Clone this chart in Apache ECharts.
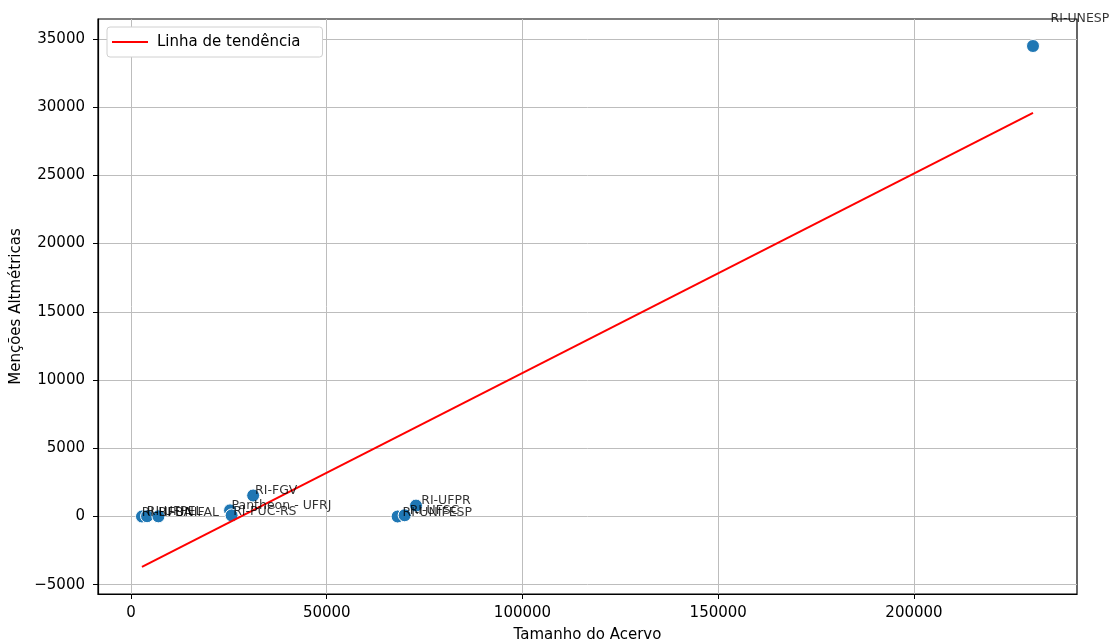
<!DOCTYPE html>
<html>
<head>
<meta charset="utf-8">
<script src="https://cdn.jsdelivr.net/npm/echarts@6/dist/echarts.min.js"></script>
<style>html,body{margin:0;padding:0;background:#fff}#c{width:1110px;height:641px}</style>
</head>
<body>
<div id="c"></div>
<script>
// Data
const names = ["RI-UNESP","RI-FGV","Pantheon - UFRJ","RI-PUC-RS","RI-UFBA","RI-UFPEL","RI-UNIFAL","RI-UNIFESP","RI-UFSC","RI-UFPR"];
const acervo = [230400, 31200, 25300, 25700, 2800, 4100, 7000, 68100, 69900, 72800];
const mencoes = [34480, 1540, 450, 80, 0, 20, 10, 0, 90, 800];
const trendX = [2800, 230400];
const trendY = [-3700, 29580];
const xTicks = [0, 50000, 100000, 150000, 200000];
const yTicks = [-5000, 0, 5000, 10000, 15000, 20000, 25000, 30000, 35000];
const xRange = [-8430, 241640];
const yRange = [-5680, 36460];

const font = "DejaVu Sans";
const fmt = v => (v < 0 ? "\u2212" + Math.abs(v) : String(v));

const pts = names.map((n, i) => [acervo[i], mencoes[i], n]);
const labelPts = names.map((n, i) => [acervo[i] * 1.02, mencoes[i] * 1.05, n]);
const trend = trendX.map((x, i) => [x, trendY[i]]);

const chart = echarts.init(document.getElementById('c'), null, {renderer: 'canvas'});
chart.setOption({
  animation: false,
  backgroundColor: '#fff',
  grid: {left: 98, right: 33, top: 19, bottom: 47, show: true, borderColor: '#000', borderWidth: 1.2,
         backgroundColor: 'transparent', containLabel: false, outerBoundsMode: 'none'},
  legend: {
    data: [{name: 'Linha de tendência', icon: 'rect'}],
    left: 107, top: 27,
    orient: 'vertical',
    backgroundColor: '#fff',
    borderColor: '#d0d0d0', borderWidth: 1, borderRadius: 3,
    padding: [6, 22, 6, 5],
    itemWidth: 36, itemHeight: 2, itemGap: 0,
    itemStyle: {color: '#ff0000'},
    textStyle: {fontFamily: font, fontSize: 15, color: '#000', lineHeight: 18, padding: [0, 0, 0, 4]}
  },
  xAxis: {
    type: 'value', min: xRange[0], max: xRange[1],
    name: 'Tamanho do Acervo', nameLocation: 'middle', nameGap: 34,
    nameTextStyle: {fontFamily: font, fontSize: 15, color: '#000'},
    axisLine: {show: true, onZero: false, lineStyle: {color: '#000', width: 1.2}},
    axisTick: {show: true, length: 5, customValues: xTicks, lineStyle: {color: '#000'}},
    axisLabel: {customValues: xTicks, formatter: fmt, fontFamily: font, fontSize: 15, color: '#000', margin: 12},
    splitLine: {show: true, lineStyle: {color: '#bdbdbd', width: 1}}
  },
  yAxis: {
    type: 'value', min: yRange[0], max: yRange[1],
    name: 'Menções Altmétricas', nameLocation: 'middle', nameGap: 71,
    nameTextStyle: {fontFamily: font, fontSize: 15, color: '#000'},
    axisLine: {show: true, onZero: false, lineStyle: {color: '#000', width: 1.2}},
    axisTick: {show: true, length: 5, customValues: yTicks, lineStyle: {color: '#000'}},
    axisLabel: {customValues: yTicks, formatter: fmt, fontFamily: font, fontSize: 15, color: '#000', margin: 13},
    splitLine: {show: true, lineStyle: {color: '#bdbdbd', width: 1}}
  },
  series: [
    {
      name: 'pontos', type: 'scatter', data: pts, symbolSize: 13, z: 2,
      itemStyle: {color: '#1f77b4', borderColor: '#fff', borderWidth: 1, opacity: 1}
    },
    {
      name: 'Linha de tendência', type: 'line', data: trend, symbol: 'none', z: 3,
      lineStyle: {color: '#ff0000', width: 2}, itemStyle: {color: '#ff0000'}
    },
    {
      name: 'rotulos', type: 'scatter', data: labelPts, symbolSize: 1, z: 4, silent: true,
      itemStyle: {color: 'rgba(0,0,0,0)'},
      label: {
        show: true, position: [0, 3], align: 'left', verticalAlign: 'bottom',
        formatter: p => p.data[2],
        fontFamily: font, fontSize: 12.5, color: '#000'
      }
    }
  ]
});
</script>
</body>
</html>
